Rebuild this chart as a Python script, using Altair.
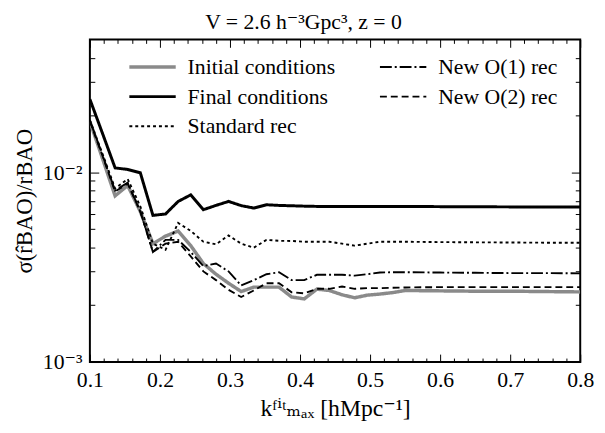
import altair as alt
import pandas as pd

# ---- data ----
k = [0.100, 0.118, 0.136, 0.154, 0.172, 0.190, 0.208, 0.226, 0.244, 0.262,
     0.280, 0.298, 0.316, 0.334, 0.352, 0.370, 0.388, 0.406, 0.424, 0.442,
     0.460, 0.478, 0.496, 0.514, 0.532, 0.550, 0.600, 0.650, 0.700, 0.750, 0.800]

initial = [0.0185, 0.0118, 0.0075, 0.0085, 0.0062, 0.0042, 0.0046, 0.0049, 0.0041, 0.0033,
           0.0029, 0.0026, 0.00235, 0.00248, 0.00248, 0.00248, 0.0022, 0.00215, 0.00242, 0.00238,
           0.00226, 0.00218, 0.00225, 0.00228, 0.00232, 0.00238, 0.00237, 0.00236, 0.00236, 0.00235, 0.00234]

final = [0.0242, 0.0160, 0.01053, 0.01033, 0.00992, 0.00592, 0.00602, 0.00701, 0.00759, 0.00634,
         0.00668, 0.00701, 0.00666, 0.00647, 0.00673, 0.00668, 0.00665, 0.00662, 0.0066, 0.0066,
         0.0066, 0.0066, 0.0066, 0.0066, 0.0066, 0.0066, 0.00658, 0.00657, 0.00656, 0.00656, 0.00656]

standard = [0.0188, 0.0125, 0.0082, 0.0092, 0.0066, 0.0042, 0.0039, 0.0054, 0.0049, 0.0043,
            0.00417, 0.00464, 0.0042, 0.0040, 0.0044, 0.00435, 0.00434, 0.0043, 0.0043, 0.0043,
            0.0042, 0.0041, 0.0042, 0.0043, 0.0043, 0.0043, 0.00428, 0.00427, 0.00426, 0.00425, 0.00425]

new1 = [0.0187, 0.0123, 0.0080, 0.0088, 0.0062, 0.0038, 0.0044, 0.0044, 0.0038, 0.0032,
        0.0033, 0.0030, 0.00253, 0.0027, 0.0029, 0.00297, 0.0027, 0.0027, 0.00288, 0.00288,
        0.00288, 0.00285, 0.0029, 0.00296, 0.00297, 0.00297, 0.00296, 0.00295, 0.00294, 0.00294, 0.00293]

new2 = [0.0185, 0.0122, 0.0079, 0.0087, 0.0062, 0.0038, 0.0042, 0.0043, 0.0036, 0.0030,
        0.0027, 0.0024, 0.0022, 0.00238, 0.0026, 0.0026, 0.00233, 0.0023, 0.00243, 0.00243,
        0.0025, 0.00243, 0.00245, 0.00245, 0.00246, 0.00247, 0.00248, 0.00248, 0.00248, 0.00248, 0.00248]

series_names = ["Initial conditions", "Final conditions", "Standard rec", "New O(1) rec", "New O(2) rec"]
series_values = [initial, final, standard, new1, new2]
colors = ["#8a8a8a", "black", "black", "black", "black"]
dashes = [[1, 0], [1, 0], [3, 3], [12, 3, 2, 3], [7, 4]]
widths = [3.5, 3.0, 1.9, 1.9, 1.9]

x_major = [0.1, 0.2, 0.3, 0.4, 0.5, 0.6, 0.7, 0.8]
x_minor = [0.12, 0.14, 0.16, 0.18, 0.22, 0.24, 0.26, 0.28, 0.32, 0.34, 0.36, 0.38,
           0.42, 0.44, 0.46, 0.48, 0.52, 0.54, 0.56, 0.58, 0.62, 0.64, 0.66, 0.68,
           0.72, 0.74, 0.76, 0.78]
y_major = [0.001, 0.01]
y_minor = [0.002, 0.003, 0.004, 0.005, 0.006, 0.007, 0.008, 0.009, 0.02, 0.03, 0.04]

rows = []
for name, vals in zip(series_names, series_values):
    for kk, v in zip(k, vals):
        rows.append({"k": kk, "sigma": v, "series": name})
df = pd.DataFrame(rows)

W, H = 497, 327
FONT = "Liberation Serif, Tinos, 'Times New Roman', 'DejaVu Serif', serif"
xscale = alt.Scale(domain=[0.1, 0.8], nice=False, zero=False)
yscale = alt.Scale(type="log", domain=[0.001, 0.05], nice=False)

legend = alt.Legend(
    title=None, orient="none", legendX=40, legendY=17, columns=2,
    columnPadding=41, rowPadding=8, symbolType="M-2.2,0H7.2", symbolSize=100,
    labelOffset=37, labelFont=FONT, labelFontSize=22, labelColor="black",
    labelLimit=400, padding=0,
)

lines = alt.Chart(df).mark_line(clip=True).encode(
    x=alt.X("k:Q", scale=xscale, axis=alt.Axis(
        orient="bottom", values=x_major, format=".1f", ticks=False, domain=False, grid=False,
        labelFlush=False, labelPadding=8, labelFont=FONT, labelFontSize=22, labelColor="black",
        title="kᶠⁱᵗₘₐₓ [hMpc⁻¹]", titleFont=FONT, titleFontSize=24, titleFontWeight="normal",
        titleColor="black", titlePadding=6)),
    y=alt.Y("sigma:Q", scale=yscale, axis=alt.Axis(
        orient="left", values=y_major, ticks=False, domain=False, grid=False,
        labelExpr="datum.value < 0.005 ? '10⁻³' : '10⁻²'", labelPadding=8,
        labelFont=FONT, labelFontSize=22, labelColor="black",
        title="σ(r̂BAO)/rBAO", titleFont=FONT, titleFontSize=23, titleFontWeight="normal",
        titleColor="black", titlePadding=6)),
    color=alt.Color("series:N", sort=series_names,
                    scale=alt.Scale(domain=series_names, range=colors), legend=legend),
    strokeDash=alt.StrokeDash("series:N", sort=series_names,
                              scale=alt.Scale(domain=series_names, range=dashes), legend=legend),
    strokeWidth=alt.StrokeWidth("series:N", sort=series_names,
                                scale=alt.Scale(type="ordinal", domain=series_names, range=widths),
                                legend=legend),
)


def tick_axis(orient, values, size, offset):
    return alt.Axis(orient=orient, values=values, labels=False, ticks=True, tickSize=size,
                    tickColor="black", tickWidth=1, domain=False, grid=False, title="",
                    offset=offset)


def tick_layer(xaxis, yaxis):
    return alt.Chart(df).mark_point(opacity=0).encode(
        x=alt.X("k:Q", scale=xscale, axis=xaxis),
        y=alt.Y("sigma:Q", scale=yscale, axis=yaxis),
    )


# inward ticks: bottom+left major, bottom+left minor, top+right major, top+right minor
t1 = tick_layer(tick_axis("top", x_major, 8, -H), tick_axis("right", y_major, 9, -W))
t2 = tick_layer(tick_axis("top", x_minor, 4, -H), tick_axis("right", y_minor, 5, -W))
t3 = tick_layer(tick_axis("bottom", x_major, 8, -H), tick_axis("left", y_major, 9, -W))
t4 = tick_layer(tick_axis("bottom", x_minor, 4, -H), tick_axis("left", y_minor, 5, -W))

chart = alt.layer(lines, t1, t2, t3, t4).resolve_axis(
    x="independent", y="independent"
).properties(
    width=W, height=H,
    title=alt.TitleParams("V = 2.6 h⁻³Gpc³,  z = 0", font=FONT, fontSize=22,
                          fontWeight="normal", color="black", anchor="middle", dx=-32, offset=5),
    autosize="none",
    padding={"left": 83, "top": 29, "right": 17, "bottom": 61},
).configure_view(stroke="black", strokeWidth=2)

chart.save("out.html", embed_options={"renderer": "svg", "actions": False})
